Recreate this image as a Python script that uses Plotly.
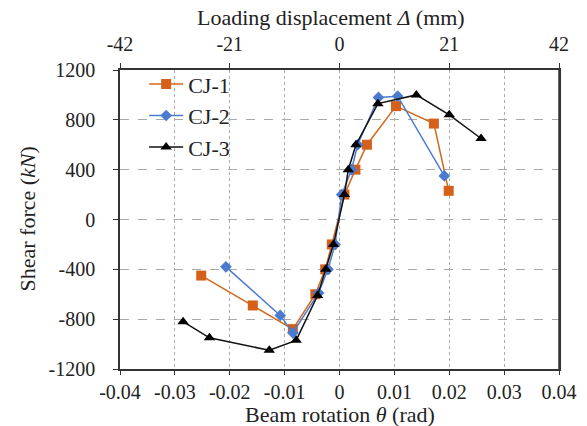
import plotly.graph_objects as go

# CJ-1
cj1_x = [-0.0252, -0.0158, -0.0085, -0.0044, -0.0026, -0.0014, 0.0009, 0.0029, 0.0050, 0.0103, 0.0172, 0.0199]
cj1_y = [-450, -690, -880, -600, -400, -200, 200, 400, 600, 910, 770, 230]
# CJ-2
cj2_x = [-0.0207, -0.0108, -0.0085, -0.0038, -0.0021, -0.0008, 0.0004, 0.0022, 0.0033, 0.0071, 0.0106, 0.0191]
cj2_y = [-380, -770, -910, -590, -400, -200, 200, 400, 600, 980, 990, 350]
# CJ-3
cj3_x = [-0.0285, -0.0237, -0.0128, -0.0079, -0.0040, -0.0025, -0.0011, 0.0009, 0.0016, 0.0030, 0.0070, 0.0140, 0.0200, 0.0258]
cj3_y = [-820, -950, -1050, -970, -610, -400, -200, 200, 400, 600, 930, 1000, 840, 650]

x_ticks = [-0.04, -0.03, -0.02, -0.01, 0, 0.01, 0.02, 0.03, 0.04]
x_ticklabels = ["-0.04", "-0.03", "-0.02", "-0.01", "0", "0.01", "0.02", "0.03", "0.04"]
y_ticks = [-1200, -800, -400, 0, 400, 800, 1200]
y_ticklabels = ["-1200", "-800", "-400", "0", "400", "800", "1200"]
top_ticks = [-42, -21, 0, 21, 42]
top_ticklabels = ["-42", "-21", "0", "21", "42"]

FONT = "Liberation Serif, Times New Roman, serif"

fig = go.Figure()
fig.add_trace(go.Scatter(x=cj1_x, y=cj1_y, name="CJ-1", mode="lines+markers", legendgroup="a",
                         line=dict(color="#D2691E", width=1.5),
                         marker=dict(symbol="square", size=10, color="#D4601A")))
fig.add_trace(go.Scatter(x=cj2_x, y=cj2_y, name="CJ-2", mode="lines+markers", legendgroup="b",
                         line=dict(color="#4A7BD0", width=1.5),
                         marker=dict(symbol="diamond", size=9, color="#4A7BD0")))
fig.add_trace(go.Scatter(x=cj3_x, y=cj3_y, name="CJ-3", mode="lines+markers", legendgroup="c",
                         line=dict(color="#111111", width=1.5),
                         marker=dict(symbol="triangle-up", size=10, color="#000000")))
# invisible trace on the top axis
fig.add_trace(go.Scatter(x=[-42, 42], y=[0, 0], xaxis="x2", mode="markers",
                         marker=dict(opacity=0), showlegend=False, hoverinfo="skip"))

fig.update_layout(
    width=587, height=426,
    margin=dict(l=120, r=28, t=70, b=57, autoexpand=False),
    paper_bgcolor="white", plot_bgcolor="white",
    font=dict(family=FONT, size=20, color="#222222"),
    showlegend=True,
    legend=dict(x=0.055, y=1.023, xanchor="left", yanchor="top",
                bgcolor="rgba(255,255,255,0)", font=dict(size=22, family=FONT),
                tracegroupgap=0, itemwidth=34, traceorder="grouped"),
    xaxis=dict(range=[-0.04, 0.04], tickvals=x_ticks, ticktext=x_ticklabels,
               showgrid=True, gridcolor="#AAAAAA", griddash="dot", gridwidth=1,
               zeroline=False, showline=True, linecolor="#333333", linewidth=1.5,
               mirror=False, ticks="outside", ticklen=4, tickcolor="#333333",
               automargin=False, ticklabelstandoff=0,
               tickfont=dict(size=20)),
    xaxis2=dict(range=[-42, 42], tickvals=top_ticks, ticktext=top_ticklabels,
                overlaying="x", side="top",
                anchor="y", showgrid=False, zeroline=False, showline=True,
                linecolor="#333333", linewidth=1.5, ticks="outside", ticklen=5,
                tickcolor="#333333", automargin=False, ticklabelstandoff=4,
                tickfont=dict(size=20)),
    yaxis=dict(range=[-1200, 1200], tickvals=y_ticks, ticktext=y_ticklabels,
               showgrid=True, gridcolor="#AAAAAA", griddash="dash", gridwidth=1,
               zeroline=False, showline=True, linecolor="#333333", linewidth=1.5,
               mirror=True, ticks="outside", ticklen=5, tickcolor="#333333",
               automargin=False, ticklabelstandoff=14,
               tickfont=dict(size=20)),
    annotations=[
        dict(text="Loading displacement <i>Δ</i> (mm)", xref="paper", yref="paper",
             x=0.48, y=1.0, yshift=53, xanchor="center", yanchor="middle",
             showarrow=False, font=dict(size=22, family=FONT, color="#222222")),
        dict(text="Beam rotation <i>θ</i> (rad)", xref="paper", yref="paper",
             x=0.50, y=0.0, yshift=-45, xanchor="center", yanchor="middle",
             showarrow=False, font=dict(size=22, family=FONT, color="#222222")),
        dict(text="Shear force (<i>kN</i>)", xref="paper", yref="paper",
             x=0.0, y=0.5, xshift=-93, xanchor="center", yanchor="middle", textangle=-90,
             showarrow=False, font=dict(size=22, family=FONT, color="#222222")),
    ],
)
fig.add_shape(type="line", xref="paper", yref="paper", x0=1, x1=1, y0=0, y1=1,
              line=dict(color="#333333", width=1.5))

fig.write_html("out.html")
